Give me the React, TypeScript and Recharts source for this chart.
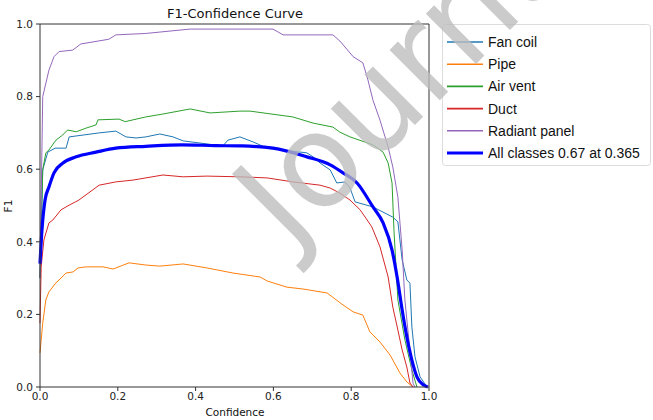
import { LineChart, Line, XAxis, YAxis, ReferenceLine } from "recharts";

// [confidence, F1] pairs
const fanCoil: number[][] = [
  [0, 0.3], [0.007, 0.598], [0.02, 0.647], [0.039, 0.658], [0.067, 0.658], [0.075, 0.689],
  [0.152, 0.7], [0.195, 0.705], [0.221, 0.689], [0.247, 0.686], [0.272, 0.689], [0.308, 0.697],
  [0.342, 0.689], [0.368, 0.678], [0.47, 0.664], [0.483, 0.68], [0.514, 0.689], [0.548, 0.675],
  [0.584, 0.658], [0.686, 0.645], [0.702, 0.634], [0.72, 0.617], [0.746, 0.598], [0.763, 0.562],
  [0.784, 0.565], [0.797, 0.548], [0.81, 0.51], [0.856, 0.496], [0.907, 0.468], [0.92, 0.455],
  [0.931, 0.35], [0.943, 0.295], [0.951, 0.286], [0.956, 0.165], [0.964, 0.083], [0.977, 0.028],
  [0.995, 0],
];

const pipe: number[][] = [
  [0, 0.094], [0.007, 0.176], [0.015, 0.24], [0.023, 0.262], [0.041, 0.287], [0.054, 0.3],
  [0.067, 0.314], [0.085, 0.317], [0.098, 0.328], [0.118, 0.331], [0.162, 0.331], [0.188, 0.325],
  [0.229, 0.342], [0.272, 0.336], [0.308, 0.333], [0.368, 0.339], [0.429, 0.328], [0.496, 0.314],
  [0.566, 0.303], [0.584, 0.292], [0.635, 0.275], [0.676, 0.27], [0.738, 0.259], [0.779, 0.226],
  [0.805, 0.207], [0.83, 0.198], [0.848, 0.152], [0.874, 0.124], [0.9, 0.088], [0.925, 0.039],
  [0.943, 0.014], [0.959, 0],
];

const airVent: number[][] = [
  [0, 0.3], [0.007, 0.598], [0.015, 0.645], [0.023, 0.653], [0.041, 0.68], [0.058, 0.694],
  [0.071, 0.708], [0.093, 0.703], [0.118, 0.713], [0.144, 0.722], [0.149, 0.736], [0.203, 0.738],
  [0.219, 0.731], [0.272, 0.744], [0.316, 0.752], [0.386, 0.766], [0.437, 0.755], [0.514, 0.76],
  [0.54, 0.76], [0.65, 0.744], [0.702, 0.727], [0.753, 0.716], [0.771, 0.702], [0.797, 0.689],
  [0.856, 0.667], [0.882, 0.647], [0.895, 0.617], [0.905, 0.562], [0.91, 0.43], [0.92, 0.24],
  [0.938, 0.13], [0.956, 0.047], [0.969, 0],
];

const duct: number[][] = [
  [0, 0.176], [0.003, 0.33], [0.01, 0.405], [0.023, 0.452], [0.033, 0.46], [0.054, 0.488],
  [0.075, 0.501], [0.1, 0.515], [0.152, 0.556], [0.195, 0.565], [0.239, 0.57], [0.316, 0.584],
  [0.368, 0.579], [0.429, 0.581], [0.514, 0.579], [0.584, 0.576], [0.65, 0.565], [0.72, 0.556],
  [0.746, 0.548], [0.771, 0.534], [0.797, 0.515], [0.823, 0.488], [0.841, 0.46], [0.853, 0.441],
  [0.874, 0.386], [0.895, 0.303], [0.907, 0.22], [0.92, 0.157], [0.931, 0.102], [0.943, 0.055],
  [0.951, 0.011], [0.959, 0],
];

const radiantPanel: number[][] = [
  [0, 0.3], [0.007, 0.8], [0.023, 0.873], [0.036, 0.91], [0.049, 0.924], [0.084, 0.928],
  [0.105, 0.945], [0.177, 0.958], [0.195, 0.97], [0.272, 0.974], [0.386, 0.986], [0.599, 0.986],
  [0.625, 0.97], [0.753, 0.97], [0.771, 0.953], [0.805, 0.91], [0.83, 0.893], [0.843, 0.846],
  [0.856, 0.79], [0.874, 0.735], [0.895, 0.661], [0.907, 0.606], [0.92, 0.523], [0.931, 0.377],
  [0.938, 0.24], [0.951, 0.1], [0.959, 0.01], [0.964, 0],
];

const allClasses: number[][] = [
  [0, 0.34], [0.005, 0.432], [0.013, 0.515], [0.023, 0.551], [0.036, 0.59], [0.059, 0.617],
  [0.093, 0.634], [0.144, 0.647], [0.195, 0.658], [0.272, 0.663], [0.365, 0.667], [0.45, 0.665],
  [0.52, 0.664], [0.599, 0.658], [0.686, 0.634], [0.746, 0.612], [0.779, 0.59], [0.815, 0.562],
  [0.856, 0.496], [0.882, 0.452], [0.905, 0.377], [0.918, 0.303], [0.931, 0.212], [0.943, 0.138],
  [0.956, 0.074], [0.969, 0.028], [0.985, 0.006], [0.997, 0],
];

const ticks = [0, 0.2, 0.4, 0.6, 0.8, 1.0];

const series = [
  { name: "Fan coil", points: fanCoil, color: "#1f77b4", width: 1 },
  { name: "Pipe", points: pipe, color: "#ff7f0e", width: 1 },
  { name: "Air vent", points: airVent, color: "#2ca02c", width: 1 },
  { name: "Duct", points: duct, color: "#d62728", width: 1 },
  { name: "Radiant panel", points: radiantPanel, color: "#9467bd", width: 1 },
  { name: "All classes 0.67 at 0.365", points: allClasses, color: "#0000ff", width: 3.2 },
];

const toRows = (pts: number[][]) => pts.map(([c, f]) => ({ c, f }));

const tickStyle = { fill: "#222", fontSize: 10.5, fontFamily: "DejaVu Sans" };

export default function App() {
  return (
    <div style={{ position: "relative", width: 653, height: 420, background: "#fff" }}>
      <style>{`body{margin:0}`}</style>
      <LineChart width={653} height={420} margin={{ top: 24, right: 224, bottom: 0, left: 0 }}>
        <XAxis
          type="number"
          dataKey="c"
          domain={[0, 1]}
          ticks={ticks}
          tickFormatter={(v: number) => v.toFixed(1)}
          tick={tickStyle}
          tickSize={4}
          tickMargin={2}
          height={33}
          stroke="#333"
          allowDuplicatedCategory={false}
        />
        <YAxis
          type="number"
          dataKey="f"
          domain={[0, 1]}
          ticks={ticks}
          tickFormatter={(v: number) => v.toFixed(1)}
          tick={tickStyle}
          tickSize={4}
          tickMargin={3}
          width={40}
          stroke="#333"
        />
        <ReferenceLine y={1} stroke="#333" />
        <ReferenceLine x={1} stroke="#333" />
        {series.map((s) => (
          <Line
            key={s.name}
            data={toRows(s.points)}
            dataKey="f"
            type={s.width > 2 ? "monotone" : "linear"}
            stroke={s.color}
            strokeWidth={s.width}
            dot={false}
            isAnimationActive={false}
          />
        ))}
      </LineChart>

      <svg width={653} height={420} style={{ position: "absolute", left: 0, top: 0, pointerEvents: "none" }}>
        <text x={235} y={18} textAnchor="middle" fontFamily="DejaVu Sans" fontSize={13} fill="#111">
          F1-Confidence Curve
        </text>
        <text x={235} y={416} textAnchor="middle" fontFamily="DejaVu Sans" fontSize={10.5} fill="#111">
          Confidence
        </text>
        <text x={12} y={206} textAnchor="middle" fontFamily="DejaVu Sans" fontSize={10.5} fill="#111" transform="rotate(-90 12 206)">
          F1
        </text>

        <rect x={442.5} y={24.5} width={208} height={141} rx={3} fill="#fff" stroke="#dcdcdc" />
        {series.map((s, i) => {
          const cy = 42 + i * 22.2;
          return (
            <g key={s.name}>
              <line x1={447} x2={483} y1={cy} y2={cy} stroke={s.color} strokeWidth={s.width > 2 ? 3.2 : 1.6} />
              <text x={488} y={cy + 5} fontFamily="Liberation Sans" fontSize={14} fill="#111">
                {s.name}
              </text>
            </g>
          );
        })}

        <text
          x={290}
          y={250}
          transform="rotate(-45 290 250)"
          fontFamily="DejaVu Sans"
          fontSize={130}
          fill="#bdbdbd"
          fillOpacity={0.78}
        >
          Journal
        </text>
      </svg>
    </div>
  );
}
